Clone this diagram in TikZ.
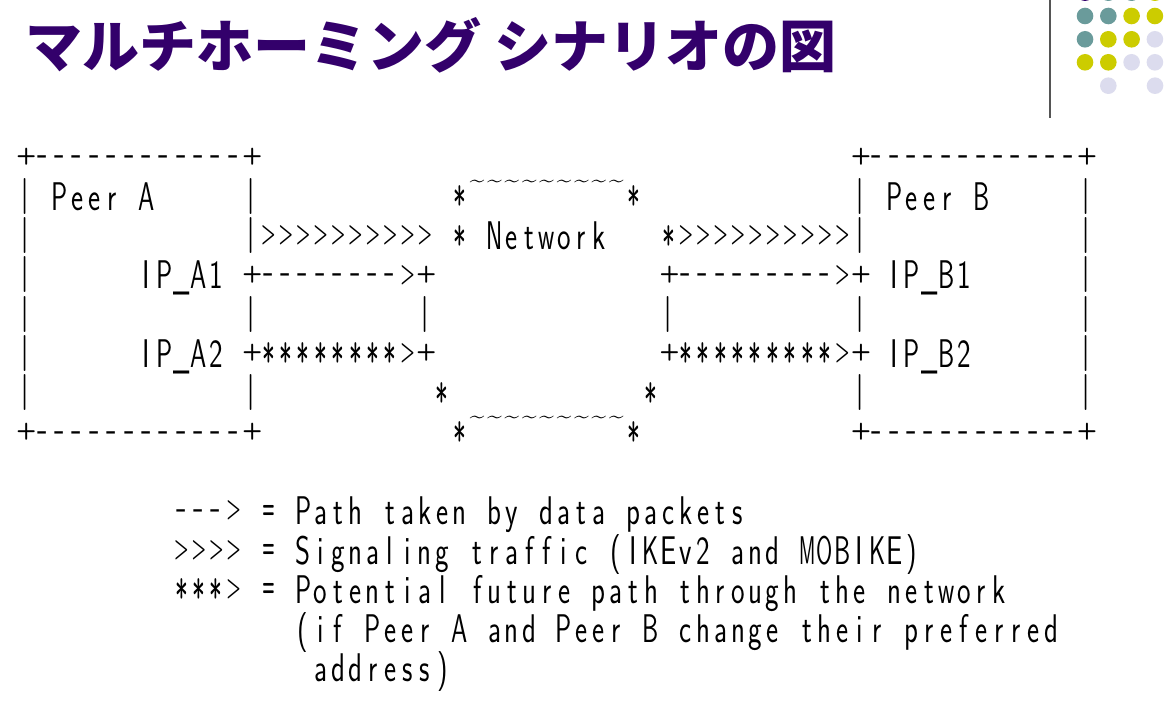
\documentclass[tikz,border=0pt]{standalone}
\usepackage{fontspec}
\usepackage{graphicx}
\newfontfamily\jpfont{Noto Sans CJK JP}
\definecolor{titlepurple}{HTML}{33006B}
\definecolor{dotteal}{HTML}{6A9B9B}
\definecolor{dotyellow}{HTML}{CCCC00}
\definecolor{dotlav}{HTML}{DCDCEE}
\definecolor{dotpurple}{HTML}{33006B}
\definecolor{rulegray}{HTML}{555555}

\ExplSyntaxOn
\box_new:N \l_artc_box
\tl_new:N \l_artc_tl
\cs_new_protected:Npn \artcell #1 { \hbox_to_wd:nn { 17.39pt } { \hfil #1 \hfil } }
\cs_new_protected:Npn \artsym #1 #2 { \artcell { \raisebox{#1}[24pt][4pt]{ #2 } } }
\cs_new_protected:Npn \artfit #1
 {
  \hbox_set:Nn \l_artc_box {#1}
  \tl_set:Nx \l_artc_tl { \fp_eval:n { min(0.72, 16.2 / \dim_to_fp:n { \box_wd:N \l_artc_box }) } }
  \artcell { \scalebox { \l_artc_tl } [1] { \box_use:N \l_artc_box } }
 }
\cs_new_protected:Npn \artglyph #1
 {
  \str_if_eq:eeTF {#1} { \c_space_tl }
   { \artcell { } }
   {
    \str_case_e:nnF {#1}
     {
      { * } { \artsym {-11.5pt} { \scalebox{0.68}[1.2]{*} } }
      { \c_tilde_str } { \artsym {23pt} { \scalebox{0.65}[0.6]{ \c_tilde_str } } }
      { > } { \artsym {6.8pt} { \scalebox{0.42}[0.72]{ \bfseries > } } }
      { + } { \artsym {8.5pt} { \scalebox{0.58}[0.58]{ \bfseries + } } }
      { - } { \artsym {5pt} { \scalebox{0.85}[1]{-} } }
      { | } { \artsym {5pt} { \scalebox{1}[0.9]{|} } }
      { = } { \artsym {6.5pt} { \scalebox{0.36}[0.8]{ \bfseries = } } }
     }
     { \artfit {#1} }
   }
 }
\cs_new_protected:Npn \mono #1 { \str_map_inline:nn {#1} { \artglyph {##1} } }
\ExplSyntaxOff

\tikzset{
  artline/.style={inner sep=0pt, outer sep=0pt, anchor=base west,
    font=\sffamily\fontsize{40pt}{40pt}\selectfont},
  dot/.style={circle, inner sep=0pt, minimum size=16.6pt}
}
\newcommand\artrun[4]{\node[artline] (#1) at ({16.3+17.39*(#2)},{171+39.3*(#3)}) {\mono{#4}};}

\begin{document}
\begin{tikzpicture}[x=1pt,y=-1pt]
\useasboundingbox (0,0) rectangle (1170,708);
\fill[white] (0,0) rectangle (1170,708);

% title
\node[anchor=west, inner sep=0pt, text=titlepurple,
      font=\jpfont\bfseries\fontsize{57pt}{57pt}\selectfont] (title) at (25,45)
  {マルチホーミング シナリオの図};

% decoration top right
\draw[rulegray, line width=1.5pt] (1050,0) -- (1050,118);
\foreach \c [count=\i from 0] in {dotpurple,dotteal,dotteal,dotyellow}
  \node[dot, fill=\c] (dA\i) at ({1085+23.3*\i},-7.3) {};
\foreach \c [count=\i from 0] in {dotteal,dotteal,dotyellow,dotyellow}
  \node[dot, fill=\c] (dB\i) at ({1085+23.3*\i},16) {};
\foreach \c [count=\i from 0] in {dotteal,dotyellow,dotyellow,dotlav}
  \node[dot, fill=\c] (dC\i) at ({1085+23.3*\i},39.3) {};
\foreach \c [count=\i from 0] in {dotyellow,dotyellow,dotlav,dotlav}
  \node[dot, fill=\c] (dD\i) at ({1085+23.3*\i},62.3) {};
\node[dot, fill=dotlav] (dE1) at (1108.3,85.7) {};
\node[dot, fill=dotlav] (dE3) at (1155,85.7) {};

% ASCII diagram
\artrun{r0a}{0}{0}{+------------+}
\artrun{r0b}{48}{0}{+------------+}

\artrun{r1a}{0}{1}{|}
\artrun{peerA}{2}{1}{Peer A}
\artrun{r1b}{13}{1}{|}
\artrun{r1c}{25}{1}{*~~~~~~~~~*}
\artrun{r1d}{48}{1}{|}
\artrun{peerB}{50}{1}{Peer B}
\artrun{r1e}{61}{1}{|}

\artrun{r2a}{0}{2}{|}
\artrun{r2b}{13}{2}{|>>>>>>>>>>}
\artrun{net}{25}{2}{* Network}
\artrun{r2c}{37}{2}{*>>>>>>>>>>|}
\artrun{r2d}{61}{2}{|}

\artrun{r3a}{0}{3}{|}
\artrun{ipa1}{7}{3}{IP_A1}
\artrun{r3b}{13}{3}{+-------->+}
\artrun{r3c}{37}{3}{+--------->+}
\artrun{ipb1}{50}{3}{IP_B1}
\artrun{r3d}{61}{3}{|}

\artrun{r4a}{0}{4}{|}
\artrun{r4b}{13}{4}{|}
\artrun{r4c}{23}{4}{|}
\artrun{r4d}{37}{4}{|}
\artrun{r4e}{48}{4}{|}
\artrun{r4f}{61}{4}{|}

\artrun{r5a}{0}{5}{|}
\artrun{ipa2}{7}{5}{IP_A2}
\artrun{r5b}{13}{5}{+********>+}
\artrun{r5c}{37}{5}{+*********>+}
\artrun{ipb2}{50}{5}{IP_B2}
\artrun{r5d}{61}{5}{|}

\artrun{r6a}{0}{6}{|}
\artrun{r6b}{13}{6}{|}
\artrun{r6c}{24}{6}{*}
\artrun{r6d}{36}{6}{*}
\artrun{r6e}{48}{6}{|}
\artrun{r6f}{61}{6}{|}

\artrun{r7a}{0}{7}{+------------+}
\artrun{r7b}{25}{7}{*~~~~~~~~~*}
\artrun{r7c}{48}{7}{+------------+}

% legend
\artrun{lg1}{9}{9}{---> = Path taken by data packets}
\artrun{lg2}{9}{10}{>>>> = Signaling traffic (IKEv2 and MOBIKE)}
\artrun{lg3}{9}{11}{***> = Potential future path through the network}
\artrun{lg4}{16}{12}{(if Peer A and Peer B change their preferred}
\artrun{lg5}{17}{13}{address)}
\end{tikzpicture}
\end{document}
